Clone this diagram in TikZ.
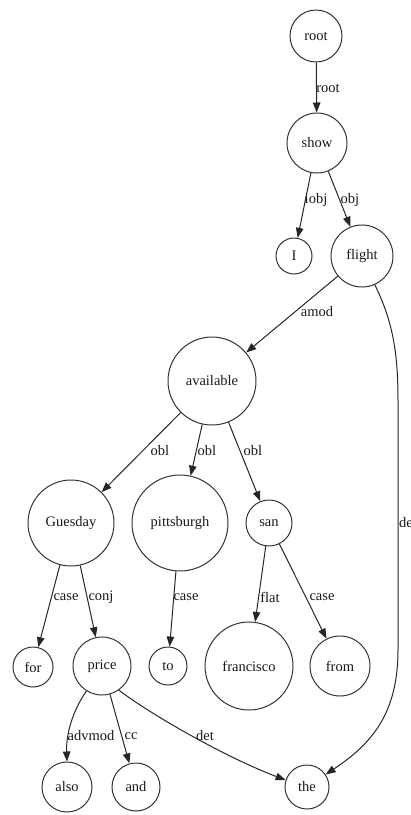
\documentclass[tikz,border=0pt]{standalone}
\usepackage{fontspec}
\setmainfont{Liberation Serif}
\usetikzlibrary{arrows.meta}
\begin{document}
\begin{tikzpicture}[x=1pt,y=-1pt,
  every node/.style={font=\fontsize{14.5}{16}\selectfont, text=black!90},
  word/.style={circle, draw=black!80, line width=1pt, inner sep=0pt, minimum size=#1},
  edge/.style={draw=black!85, line width=1pt, -{Triangle[length=10pt,width=7.5pt]}},
  lbl/.style={inner sep=0pt}]
\useasboundingbox (0,0) rectangle (411,815);
\clip (0,0) rectangle (411,815);

% words
\node[word=52pt] (root) at (316,36) {root};
\node[word=60pt] (show) at (317,143) {show};
\node[word=36pt] (I) at (294,256) {I};
\node[word=62pt] (flight) at (362,256) {flight};
\node[word=88pt] (available) at (212,381) {available};
\node[word=86pt] (guesday) at (71,523) {Guesday};
\node[word=96pt] (pittsburgh) at (180,523) {pittsburgh};
\node[word=46pt] (san) at (269,523) {san};
\node[word=40pt] (for) at (33,667) {for};
\node[word=58pt] (price) at (102,666) {price};
\node[word=38pt] (to) at (168,666) {to};
\node[word=88pt] (francisco) at (249,666) {francisco};
\node[word=60pt] (from) at (340,666) {from};
\node[word=50pt] (also) at (67,787) {also};
\node[word=48pt] (and) at (136,787) {and};
\node[word=44pt] (the) at (307,787) {the};

% dependencies
\draw[edge] (root) -- (show);
\draw[edge] (show) -- (I);
\draw[edge] (show) -- (flight);
\draw[edge] (flight) -- (available);
\draw[edge] (flight.-66) .. controls (392,320) and (398,350) .. (398,400)
  -- (398,650) .. controls (398,715) and (370,745) .. (the.34);
\draw[edge] (available) -- (guesday);
\draw[edge] (available) -- (pittsburgh);
\draw[edge] (available) -- (san);
\draw[edge] (guesday) -- (for);
\draw[edge] (guesday) -- (price);
\draw[edge] (pittsburgh) -- (to);
\draw[edge] (san) -- (francisco);
\draw[edge] (san) -- (from);
\draw[edge] (price.-122) .. controls (72,712) and (66,735) .. (also.north);
\draw[edge] (price) -- (and);
\draw[edge] (price.-55) .. controls (150,714) and (225,757) .. (the.162);

% relation labels
\node[lbl] (lroot) at (328,88) {root};
\node[lbl] (liobj) at (316,200) {iobj};
\node[lbl] (lobj) at (350,200) {obj};
\node[lbl] (lamod) at (317,312) {amod};
\node[lbl] (lobla) at (160,451) {obl};
\node[lbl] (loblb) at (207,451) {obl};
\node[lbl] (loblc) at (253,451) {obl};
\node[lbl, anchor=west] (ldetf) at (399,523) {det};
\node[lbl] (lcasea) at (66,597) {case};
\node[lbl] (lconj) at (101,597) {conj};
\node[lbl] (lcaseb) at (186,597) {case};
\node[lbl] (lflat) at (270,597) {flat};
\node[lbl] (lcasec) at (322,597) {case};
\node[lbl] (ladv) at (91,736) {advmod};
\node[lbl] (lcc) at (131,736) {cc};
\node[lbl] (ldet) at (205,736) {det};
\end{tikzpicture}
\end{document}
